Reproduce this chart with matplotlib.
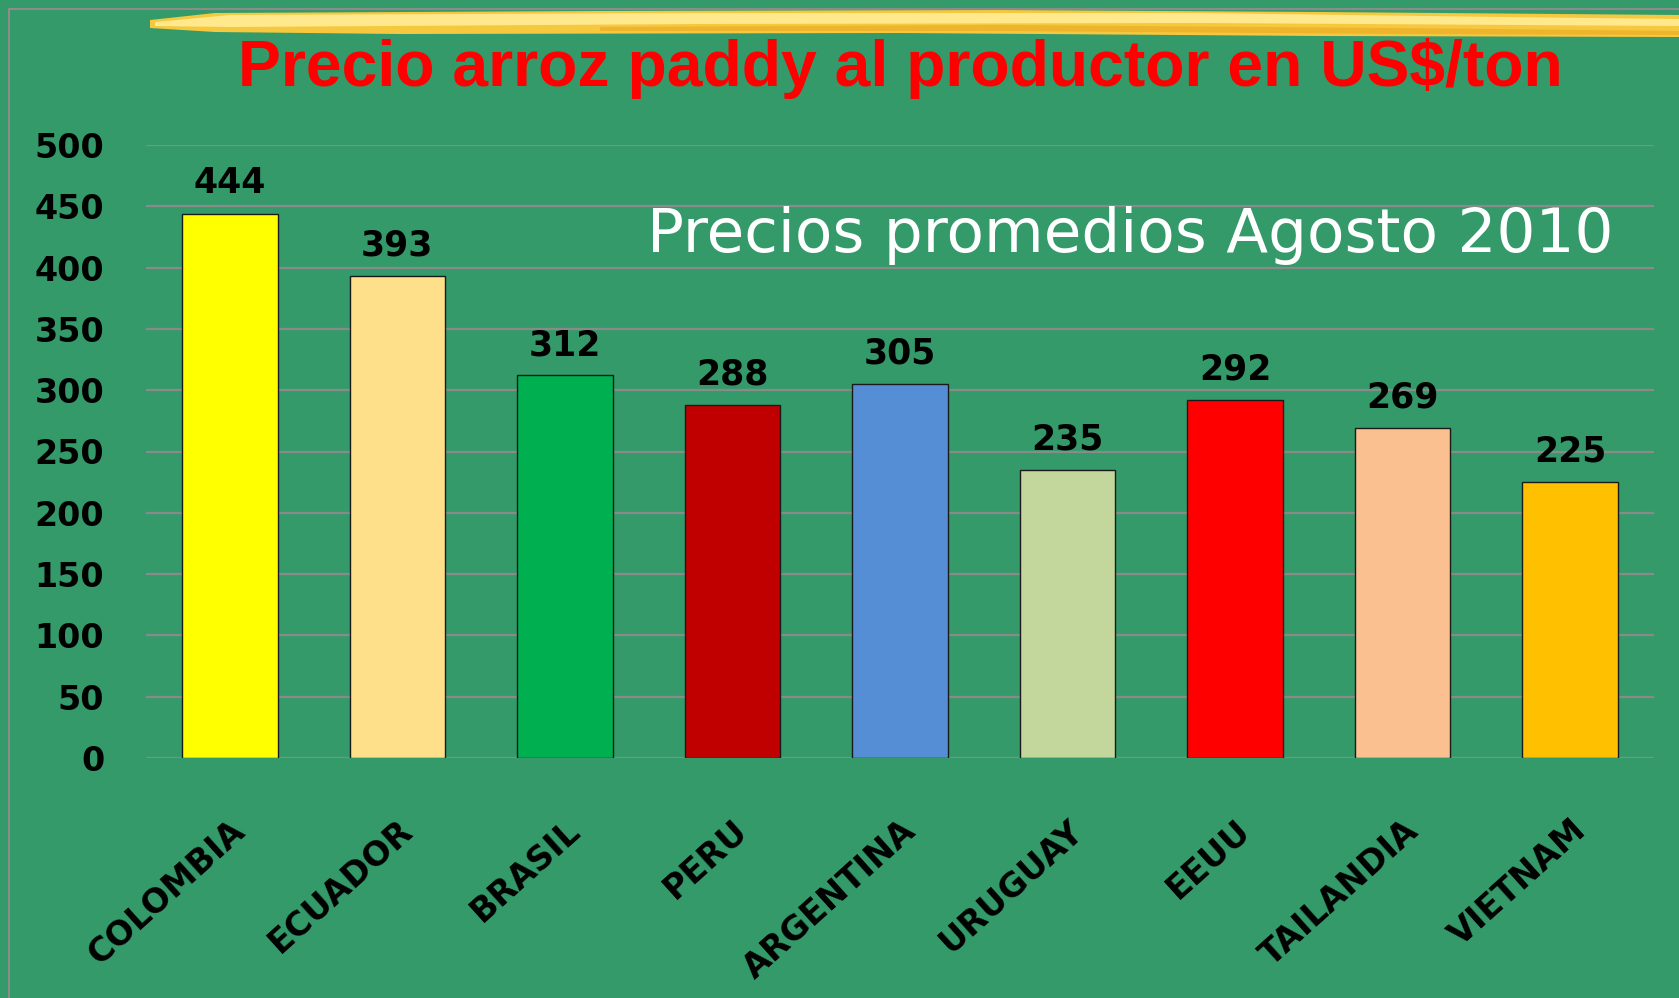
# Precio arroz paddy al productor (US$/ton) - agosto 2010
import matplotlib.pyplot as plt
from matplotlib.patches import Polygon

paises = ["COLOMBIA", "ECUADOR", "BRASIL", "PERU", "ARGENTINA",
          "URUGUAY", "EEUU", "TAILANDIA", "VIETNAM"]
precios = [444, 393, 312, 288, 305, 235, 292, 269, 225]
colores = ["#FFFF00", "#FFE08A", "#00B050", "#C00000", "#558ED5",
           "#C3D69B", "#FF0000", "#FAC090", "#FFC000"]
ticks_y = [0, 50, 100, 150, 200, 250, 300, 350, 400, 450, 500]

titulo = "Precio arroz paddy al productor en US$/ton"
subtitulo = "Precios promedios Agosto 2010"

fundo = "#349A6A"
W, H = 1679, 998

fig = plt.figure(figsize=(W / 100, H / 100), dpi=100, facecolor=fundo)
ax = fig.add_axes([146 / W, 1 - 758 / H, (1654 - 146) / W, (758 - 145) / H])
ax.set_facecolor(fundo)

# borda cinza do slide
fig.add_artist(plt.Line2D([9 / W, 9 / W], [0, 1 - 9 / H], color="#8C8C8C", lw=1.5))
fig.add_artist(plt.Line2D([9 / W, 1], [1 - 9 / H, 1 - 9 / H], color="#8C8C8C", lw=1.5))

# pincelada amarela no topo
def px(pts):
    return [(x / W, 1 - y / H) for x, y in pts]

fig.add_artist(Polygon(px([(150, 20), (215, 13), (600, 11), (1000, 10), (1320, 12),
                           (1679, 15), (1679, 37), (1320, 36), (900, 33),
                           (400, 34), (215, 32), (150, 28)]),
                       closed=True, facecolor="#F6C840", edgecolor="none"))
fig.add_artist(Polygon(px([(155, 22), (230, 15), (700, 13), (1200, 13), (1500, 17),
                           (1679, 19), (1679, 26), (1200, 23), (700, 24), (230, 27), (155, 26)]),
                       closed=True, facecolor="#FFE98C", edgecolor="none"))
fig.add_artist(Polygon(px([(600, 27), (1000, 25), (1400, 28), (1679, 31),
                           (1679, 35), (1400, 34), (1000, 31), (600, 31)]),
                       closed=True, facecolor="#E8A820", edgecolor="none", alpha=0.6))

x = range(len(paises))
ax.bar(x, precios, width=0.57, color=colores, edgecolor="#1A1A1A", linewidth=1, zorder=3)

for i, v in enumerate(precios):
    ax.text(i, v + 11, str(v), ha="center", va="bottom", fontsize=25,
            fontweight="bold", color="black", zorder=4)

ax.set_xlim(-0.5, len(paises) - 0.5)
ax.set_ylim(0, 500)
ax.set_yticks(ticks_y)
ax.set_yticklabels([str(t) for t in ticks_y], fontsize=24, fontweight="bold")
ax.yaxis.grid(True, color="#8A8A8A", linewidth=1.6, zorder=0)
ax.set_axisbelow(True)
ax.tick_params(axis="y", length=0, pad=30)
ax.tick_params(axis="x", length=0, pad=40)
ax.set_xticks(list(x))
ax.set_xticklabels(paises, rotation=42, ha="right", rotation_mode="anchor",
                   fontsize=24, fontweight="bold")
for s in ax.spines.values():
    s.set_visible(False)

t1 = fig.text(900 / W, 1 - 86 / H, titulo, ha="center", va="baseline", color="#FF0000",
              fontsize=44, fontweight="bold", family="Liberation Sans")
t2 = fig.text(1130 / W, 1 - 252 / H, subtitulo, ha="center", va="baseline", color="white",
              fontsize=41, family="DejaVu Sans")

# ajusta o tamanho da fonte para a largura do original
rend = fig.canvas.get_renderer()
for t, largura in [(t1, 1325), (t2, 967)]:
    w = t.get_window_extent(rend).width
    t.set_fontsize(t.get_fontsize() * largura / w)

fig.savefig("out.png", dpi=100, facecolor=fundo)
